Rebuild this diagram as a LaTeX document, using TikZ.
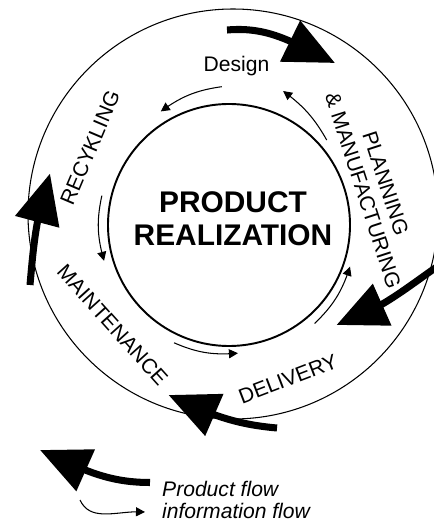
\documentclass[tikz,border=0pt]{standalone}
\usepackage{fontspec}
\setsansfont{Liberation Sans}
\usetikzlibrary{arrows.meta,bending}

\begin{document}
\begin{tikzpicture}[font=\sffamily,
    product/.style={line width=4pt,-{Triangle[length=10mm,width=8.8mm]}},
    info/.style={line width=0.6pt,-{Triangle[length=1.8mm,width=1.8mm]}},
    phase/.style={font=\sffamily\fontsize{12}{13.5}\selectfont}]
  \useasboundingbox (-4.58,-5.98) rectangle (4.08,4.50);

  % Outer life-cycle ring and the realization core.
  \draw[line width=0.6pt] (0.08,0.22) circle (4.10);
  \draw[line width=1.1pt] (0,0) circle (2.42);
  \node[font=\sffamily\bfseries\fontsize{17}{19}\selectfont,align=center]
    (core) at (0.08,0.12) {PRODUCT\\REALIZATION};

  % Phase labels, set between the two rings.
  \node[phase,anchor=base] (design) at (0.15,3.07) {Design};
  \node[phase,align=center,rotate=-72] (planning) at (2.91,0.76)
    {PLANNING\\\& MANUFACTURING};
  \node[phase,rotate=21] (delivery) at (1.18,-3.08) {DELIVERY};
  \node[phase,rotate=-48] (maintenance) at (-2.33,-2.00) {MAINTENANCE};
  \node[phase,rotate=67] (recycling) at (-2.78,1.54) {RECYKLING};

  % Product flow runs clockwise along the outer ring.
  \draw[product] (-0.04,3.90) to[out=5,in=155] (2.12,3.24);
  \draw[product] (4.18,-0.82) to[out=215,in=19] (2.15,-2.00);
  \draw[product] (0.96,-4.06) to[out=175,in=-25] (-1.21,-3.40);
  \draw[product] (-3.98,-1.20) to[out=85,in=252] (-3.58,1.03);

  % Information flow runs the other way, close to the core.
  \draw[info] (93:2.77) to[bend right=14] (121:2.65);
  \draw[info] (167:2.61) to[bend right=14] (196:2.60);
  \draw[info] (245:2.60) to[bend right=14] (274:2.57);
  \draw[info] (311:2.61) to[bend right=14] (341:2.56);
  \draw[info] (41:2.59) to[bend right=12] (68:2.89);

  % Legend
  \draw[product] (-1.58,-5.15) to[out=180,in=-24] (-3.78,-4.50);
  \draw[info] (-2.98,-5.50) to[out=-65,in=175] (-1.68,-5.74);
  \node[font=\sffamily\itshape\fontsize{12}{13.5}\selectfont,anchor=base west]
    (prodflow) at (-1.46,-5.43) {Product flow};
  \node[font=\sffamily\itshape\fontsize{12}{13.5}\selectfont,anchor=base west]
    (infoflow) at (-1.46,-5.87) {information flow};
\end{tikzpicture}
\end{document}
